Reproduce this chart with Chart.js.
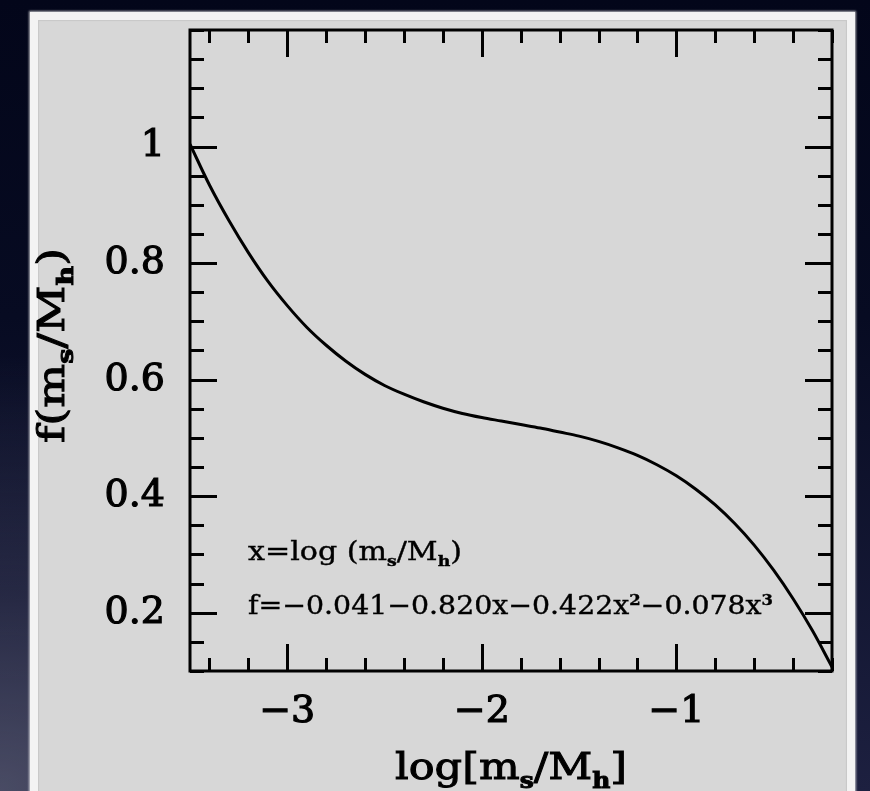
<!DOCTYPE html>
<html>
<head>
<meta charset="utf-8">
<script src="https://cdn.jsdelivr.net/npm/chart.js@4.4.0/dist/chart.umd.min.js"></script>
<style>
html,body{margin:0;padding:0;width:870px;height:791px;overflow:hidden;}
body{
  background:
    radial-gradient(ellipse 60% 55% at 0% 100%, rgba(78,80,104,.9) 0%, rgba(50,52,78,.6) 45%, rgba(10,14,38,0) 100%),
    linear-gradient(to bottom, #03061a 0%, #070b22 40%, #1d2040 100%);
}
#card{
  position:absolute;left:30px;top:12px;width:809px;height:790px;
  background:#d7d7d7;border:8px solid #f3f3f3;border-bottom:none;
  box-shadow:0 0 2px 1px rgba(255,255,255,.7), inset 0 0 1px 1px rgba(190,190,190,.6);
}
#c{position:absolute;left:0;top:0;}
</style>
</head>
<body>
<div id="card"></div>
<canvas id="c" width="870" height="791"></canvas>
<script>
// curve, log[m_s/M_h] -> f
const xVals = [-3.5,-3.4,-3.3,-3.2,-3.1,-3.0,-2.9,-2.8,-2.7,-2.6,-2.5,-2.4,-2.3,-2.2,-2.1,-2.0,-1.9,
  -1.8,-1.7,-1.6,-1.5,-1.4,-1.3,-1.2,-1.1,-1.0,-0.9,-0.8,-0.7,-0.6,-0.5,-0.4,-0.3,-0.2];
const fVals = [1.004,0.934,0.873,0.818,0.769,0.727,0.690,0.659,0.632,0.609,0.590,0.575,0.562,0.551,0.542,0.535,0.529,
  0.523,0.517,0.510,0.503,0.494,0.483,0.470,0.454,0.435,0.412,0.385,0.353,0.316,0.273,0.224,0.169,0.107];

const xMajor = [-3, -2, -1];
const yMajor = [0.2, 0.4, 0.6, 0.8, 1];
const xMinorStep = 0.2, yMinorStep = 0.05;

const xTitle = 'log[m_s/M_h]';
const yTitle = 'f(m_s/M_h)';
const noteLines = ['x=log (m_s/M_h)', 'f=\u22120.041\u22120.820x\u22120.422x^2\u22120.078x^3'];

const FONT = '"DejaVu Serif"';

function fmt(v){ return String(+v.toFixed(2)).replace('-', '\u2212'); }

// text with _sub and ^sup, squeezed to a target width
function drawRich(ctx, str, size, x, y, targetW, align, stroke){
  const pieces = [];
  for (let i = 0; i < str.length; i++){
    const c = str[i];
    if ((c === '_' || c === '^') && i + 1 < str.length){
      const ch = str[++i];
      const s = Math.round(size * 0.58);
      pieces.push({ t: ch, font: `bold ${s}px ${FONT}`, dy: c === '_' ? size * 0.24 : -size * 0.36 });
    } else {
      const last = pieces[pieces.length - 1];
      if (last && last.dy === 0) last.t += c;
      else pieces.push({ t: c, font: `${size}px ${FONT}`, dy: 0 });
    }
  }
  let total = 0;
  pieces.forEach(p => { ctx.font = p.font; p.w = ctx.measureText(p.t).width; total += p.w; });
  const k = targetW ? targetW / total : 1;
  ctx.save();
  ctx.translate(x, y);
  ctx.scale(k, 1);
  ctx.fillStyle = '#000';
  ctx.strokeStyle = '#000';
  ctx.lineWidth = stroke || 0;
  ctx.textBaseline = 'alphabetic';
  ctx.textAlign = 'left';
  let cx = align === 'center' ? -total / 2 : 0;
  pieces.forEach(p => {
    ctx.font = p.font;
    ctx.fillText(p.t, cx, p.dy);
    if (stroke) ctx.strokeText(p.t, cx, p.dy);
    cx += p.w;
  });
  ctx.restore();
}

const framePlugin = {
  id: 'frame',
  afterDraw(chart){
    const { ctx, chartArea: a, scales: { x, y } } = chart;
    ctx.save();
    ctx.strokeStyle = '#000';
    ctx.lineWidth = 3;
    ctx.lineCap = 'butt';
    ctx.strokeRect(a.left, a.top, a.right - a.left, a.bottom - a.top);

    ctx.beginPath();
    const x0 = Math.ceil(x.min / xMinorStep - 1e-6) * xMinorStep;
    for (let v = x0; v <= x.max + 1e-6; v += xMinorStep){
      const major = xMajor.some(m => Math.abs(m - v) < 1e-6);
      const len = major ? 27 : 13;
      const px = Math.round(x.getPixelForValue(v)) + 0.5;
      ctx.moveTo(px, a.bottom); ctx.lineTo(px, a.bottom - len);
      ctx.moveTo(px, a.top); ctx.lineTo(px, a.top + len);
    }
    const y0 = Math.ceil(y.min / yMinorStep - 1e-6) * yMinorStep;
    for (let v = y0; v <= y.max + 1e-6; v += yMinorStep){
      const major = yMajor.some(m => Math.abs(m - v) < 1e-6);
      const len = major ? 27 : 14;
      const py = Math.round(y.getPixelForValue(v)) + 0.5;
      ctx.moveTo(a.left, py); ctx.lineTo(a.left + len, py);
      ctx.moveTo(a.right, py); ctx.lineTo(a.right - len, py);
    }
    ctx.stroke();
    ctx.restore();

    drawRich(ctx, xTitle, 38, (a.left + a.right) / 2, 779, 232, 'center', 1);
    ctx.save();
    ctx.translate(64, (a.top + a.bottom) / 2 - 5);
    ctx.rotate(-Math.PI / 2);
    drawRich(ctx, yTitle, 38, 0, 0, 195, 'center', 1);
    ctx.restore();

    drawRich(ctx, noteLines[0], 26, 248, 560, 214, 'left', 0.4);
    drawRich(ctx, noteLines[1], 26, 248, 614, 525, 'left', 0.4);
  }
};

new Chart(document.getElementById('c'), {
  type: 'line',
  data: {
    datasets: [{
      data: xVals.map((v, i) => ({ x: v, y: fVals[i] })),
      borderColor: '#000',
      borderWidth: 3,
      pointRadius: 0,
      fill: false,
      cubicInterpolationMode: 'monotone',
    }],
  },
  options: {
    responsive: false,
    animation: false,
    devicePixelRatio: 1,
    layout: { padding: { left: 0, top: 30, right: 38, bottom: 0 } },
    plugins: { legend: { display: false }, tooltip: { enabled: false } },
    scales: {
      x: {
        type: 'linear', min: -3.5, max: -0.2,
        afterBuildTicks: s => { s.ticks = xMajor.map(v => ({ value: v })); },
        afterFit: s => { s.height = 120; s.paddingLeft = 0; s.paddingRight = 0; },
        grid: { display: false, drawTicks: false },
        border: { display: false },
        ticks: { padding: 18, color: '#000', autoSkip: false, maxRotation: 0,
          textStrokeColor: '#000', textStrokeWidth: 1.2,
          font: { family: 'DejaVu Serif', size: 38 }, callback: v => fmt(v) },
      },
      y: {
        type: 'linear', min: 0.1, max: 1.2,
        afterBuildTicks: s => { s.ticks = yMajor.map(v => ({ value: v })); },
        afterFit: s => { s.width = 190; s.paddingTop = 0; s.paddingBottom = 0; },
        grid: { display: false, drawTicks: false },
        border: { display: false },
        ticks: { padding: 25, color: '#000', autoSkip: false,
          textStrokeColor: '#000', textStrokeWidth: 1.2,
          font: { family: 'DejaVu Serif', size: 38 }, callback: v => fmt(v) },
      },
    },
  },
  plugins: [framePlugin],
});
</script>
</body>
</html>
